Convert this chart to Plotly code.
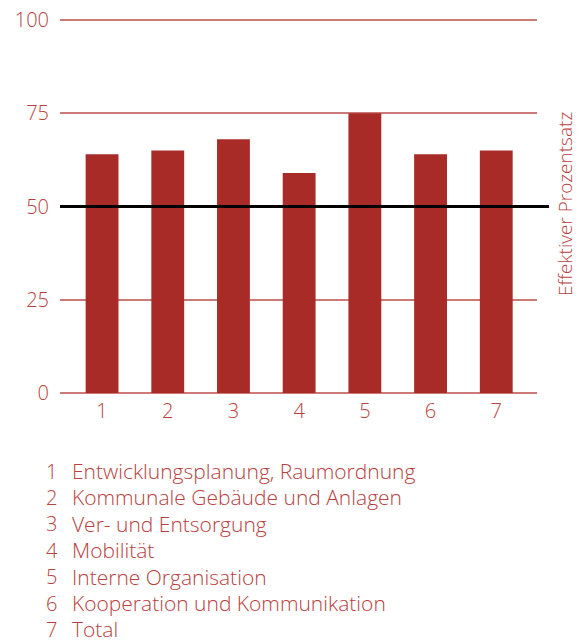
import plotly.graph_objects as go

# Chart data
categories = [1, 2, 3, 4, 5, 6, 7]
values = [64, 65, 68, 59, 75, 64, 65]
labels = [
    "Entwicklungsplanung, Raumordnung",
    "Kommunale Gebäude und Anlagen",
    "Ver- und Entsorgung",
    "Mobilität",
    "Interne Organisation",
    "Kooperation und Kommunikation",
    "Total",
]
y_ticks = [0, 25, 50, 75, 100]
target = 50

BAR = "#a92b28"
GRID = "#cc7a77"
TEXT = "#b8403d"
FONT = "Open Sans"

# Pixel geometry of the plot area (top padded a bit so the 100 gridline shows)
W, H = 579, 642
L, R, T, B = 60, 42, 18, 249
Y_MAX = 100 + 2 * 100 / 373
pw, ph = W - L - R, H - T - B


def px(x):
    return (x - L) / pw


def py(y):
    return (H - B - y) / ph


fig = go.Figure()
fig.add_trace(
    go.Bar(
        x=categories,
        y=values,
        width=0.5,
        marker=dict(color=BAR, line=dict(width=0)),
        showlegend=False,
    )
)

# Reference line at 50
fig.add_shape(
    type="line",
    xref="paper",
    yref="y",
    x0=0,
    x1=px(549),
    y0=target,
    y1=target,
    line=dict(color="black", width=3),
)

# Right axis title
fig.add_annotation(
    text="Effektiver Prozentsatz",
    xref="paper",
    yref="paper",
    x=px(565),
    y=py(204),
    xanchor="center",
    yanchor="middle",
    textangle=-90,
    showarrow=False,
    font=dict(family=FONT, size=19, color=TEXT, weight=300),
)

# Legend below the chart
for i, lab in enumerate(labels):
    yy = py(471 + i * 26.4)
    fig.add_annotation(
        text=str(categories[i]),
        xref="paper",
        yref="paper",
        x=px(45),
        y=yy,
        xanchor="left",
        yanchor="middle",
        borderpad=0,
        showarrow=False,
        font=dict(family=FONT, size=20, color=TEXT, weight=300),
    )
    fig.add_annotation(
        text=lab,
        xref="paper",
        yref="paper",
        x=px(71),
        y=yy,
        xanchor="left",
        yanchor="middle",
        borderpad=0,
        showarrow=False,
        font=dict(family=FONT, size=21, color=TEXT, weight=300),
    )

fig.update_layout(
    width=W,
    height=H,
    margin=dict(l=L, r=R, t=T, b=B, pad=0),
    paper_bgcolor="white",
    plot_bgcolor="white",
    font=dict(family=FONT, color=TEXT),
    xaxis=dict(
        range=[0.36, 7.62],
        tickvals=categories,
        showgrid=False,
        zeroline=False,
        showline=False,
        ticks="",
        automargin=False,
        ticklabelstandoff=4,
        tickfont=dict(size=20, color=TEXT, weight=300),
    ),
    yaxis=dict(
        range=[0, Y_MAX],
        tickvals=y_ticks,
        showgrid=True,
        gridcolor=GRID,
        gridwidth=1.5,
        zeroline=True,
        zerolinecolor=GRID,
        zerolinewidth=1.5,
        showline=False,
        ticks="",
        automargin=False,
        ticklabelstandoff=10,
        tickfont=dict(size=20, color=TEXT, weight=300),
    ),
)

# the page body has a default 8px margin; drop it so the figure fills the window
fig.write_html(
    "out.html",
    config={"displayModeBar": False},
    post_script="document.body.style.margin = '0';",
)
